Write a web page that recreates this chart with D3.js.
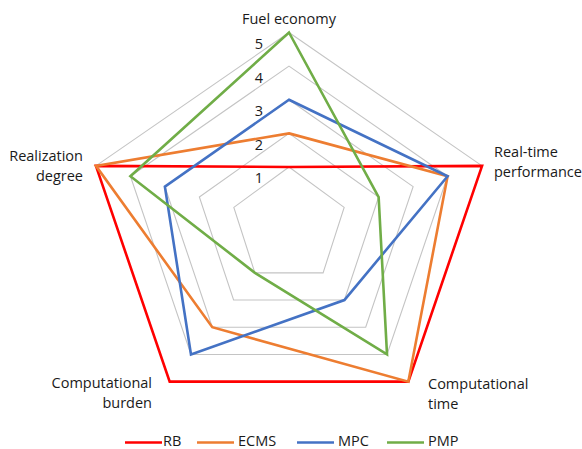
<!DOCTYPE html>
<html>
<head>
<meta charset="utf-8">
<script src="https://cdn.jsdelivr.net/npm/d3@7"></script>
<style>
  html, body { margin: 0; padding: 0; background: #fff; }
  svg text { font-family: "Open Sans", "Noto Sans", sans-serif; fill: #1a1a1a; }
</style>
</head>
<body>
<svg id="chart" width="582" height="449"></svg>
<script>
// Radar axes, clockwise from the top
const axes = ["Fuel economy", "Real-time performance", "Computational time", "Computational burden", "Realization degree"];
const axisLines = [["Fuel economy"], ["Real-time", "performance"], ["Computational", "time"], ["Computational", "burden"], ["Realization", "degree"]];
const levels = [1, 2, 3, 4, 5];
const seriesNames = ["RB", "ECMS", "MPC", "PMP"];
const seriesColors = ["#FF0000", "#ED7D31", "#4472C4", "#70AD47"];
const rbValues   = [1, 5, 5, 5, 5];
const ecmsValues = [2, 4, 5, 3, 5];
const mpcValues  = [3, 4, 2, 4, 3];
const pmpValues  = [5, 2, 4, 1, 4];
const seriesValues = [rbValues, ecmsValues, mpcValues, pmpValues];

const svg = d3.select("#chart");
const cx = 289, cy = 225.5;
const fontSize = 14.5;

// angle per axis (radians, 0 = straight up, clockwise)
const angle = d3.scaleLinear().domain([0, axes.length]).range([0, 2 * Math.PI]);
// radial distance, horizontal and vertical components
const rX = d3.scaleLinear().domain([1, 5]).range([58, 203]);
const rY = d3.scaleLinear().domain([1, 5]).range([58.5, 193]);

const px = (v, i) => cx + rX(v) * Math.sin(angle(i));
const py = (v, i) => cy - rY(v) * Math.cos(angle(i));

const ring = d3.line().curve(d3.curveLinearClosed);

// grid pentagons
svg.append("g").selectAll("path")
  .data(levels)
  .join("path")
  .attr("d", lv => ring(axes.map((a, i) => [px(lv, i), py(lv, i)])))
  .attr("fill", "none")
  .attr("stroke", "#C4C4C4")
  .attr("stroke-width", 1.1);

// value labels along the top axis
svg.append("g").selectAll("text")
  .data(levels)
  .join("text")
  .attr("x", cx - 26)
  .attr("y", lv => py(lv, 0) + 12.5)
  .attr("text-anchor", "end")
  .attr("dominant-baseline", "middle")
  .attr("font-size", fontSize)
  .text(d => d);

// series polygons
svg.append("g").selectAll("path")
  .data(seriesValues)
  .join("path")
  .attr("d", vals => ring(vals.map((v, i) => [px(v, i), py(v, i)])))
  .attr("fill", "none")
  .attr("stroke", (d, k) => seriesColors[k])
  .attr("stroke-width", 2.6)
  .attr("stroke-linejoin", "miter");

// axis category labels
const labelPos = [
  { x: 289, y: 20, anchor: "middle" },
  { x: 494, y: 153, anchor: "start" },
  { x: 428, y: 385, anchor: "start" },
  { x: 152, y: 384, anchor: "end" },
  { x: 83, y: 157, anchor: "end" }
];
const catG = svg.append("g");
axisLines.forEach((lines, i) => {
  const t = catG.append("text")
    .attr("x", labelPos[i].x)
    .attr("y", labelPos[i].y)
    .attr("text-anchor", labelPos[i].anchor)
    .attr("dominant-baseline", "middle")
    .attr("font-size", fontSize);
  lines.forEach((ln, j) => {
    t.append("tspan")
      .attr("x", labelPos[i].x)
      .attr("dy", j === 0 ? 0 : 20)
      .text(ln);
  });
});

// legend
const legendX = [125, 197, 297, 387];
const legendY = 442.5;
const leg = svg.append("g").selectAll("g")
  .data(seriesNames)
  .join("g")
  .attr("transform", (d, k) => `translate(${legendX[k]},${legendY})`);
leg.append("line")
  .attr("x1", 0).attr("x2", 37)
  .attr("y1", 0).attr("y2", 0)
  .attr("stroke", (d, k) => seriesColors[k])
  .attr("stroke-width", 2.6);
leg.append("text")
  .attr("x", (d, k) => k === 0 ? 38 : 41)
  .attr("y", 0)
  .attr("dominant-baseline", "middle")
  .attr("font-size", fontSize)
  .text(d => d);
</script>
</body>
</html>
